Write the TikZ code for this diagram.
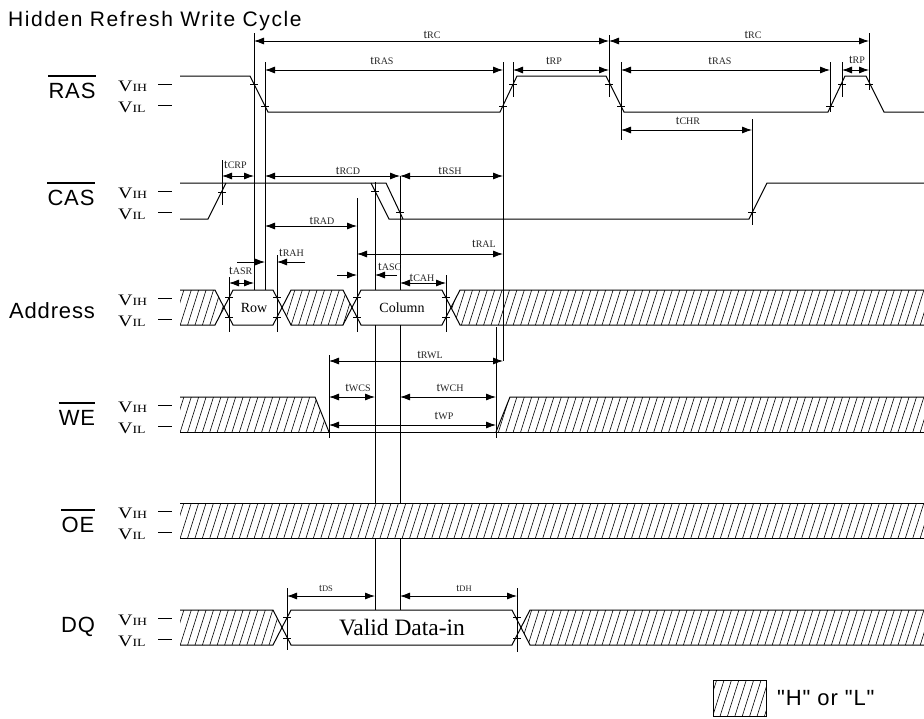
\documentclass[tikz,border=0pt]{standalone}
\usepackage{fontspec}
\setmainfont{Liberation Serif}
\newfontfamily\sigfont[LetterSpace=4]{Liberation Sans}
\newfontfamily\titlefont[LetterSpace=7.5]{Liberation Sans}
\newfontfamily\vfont[FakeStretch=1.25]{Liberation Serif}
\usetikzlibrary{arrows.meta}
\newcommand\tsub[1]{t{\fontsize{10}{10}\selectfont #1}}
\newcommand\tsubs[1]{{\fontsize{11}{11}\selectfont t}{\fontsize{8.5}{8.5}\selectfont #1}}
\newcommand\VIH{{\vfont\fontsize{16}{16}\selectfont V\fontsize{11}{11}\selectfont IH}}
\newcommand\VIL{{\vfont\fontsize{16}{16}\selectfont V\fontsize{11}{11}\selectfont IL}}
\newcommand\mytick[2]{\draw[refl] (#1-4,#2) -- (#1+4,#2);}
\newcommand\hatchin[2]{\begin{scope}\clip #2;
  \foreach \hx in {150,157.4,...,935}{\draw[hl] (\hx,#1+37) -- ++(12,-38);}\end{scope}}
\tikzset{
  wave/.style={line width=1pt},
  refl/.style={line width=0.8pt},
  dimar/.style={line width=0.8pt,{Latex[length=10pt,width=7pt]}-{Latex[length=10pt,width=7pt]}},
  onear/.style={line width=0.8pt,-{Latex[length=10pt,width=7pt]}},
  hl/.style={line width=0.6pt},
  ovl/.style={line width=1.3pt},
  signame/.style={font=\sigfont\fontsize{22}{22}\selectfont,inner sep=0pt,anchor=base},
  tlabel/.style={inner sep=0pt,anchor=base,font=\fontsize{13}{13}\selectfont,text=black!85},
  vlab/.style={inner sep=0pt,anchor=west},
  boxtext/.style={inner sep=0pt,font=\fontsize{14}{14}\selectfont},
}
\begin{document}
\begin{tikzpicture}[x=1pt,y=-1pt]
\useasboundingbox (0,0) rectangle (924,718);
% title
\node[inner sep=0pt,anchor=base west,font=\titlefont\fontsize{21}{21}\selectfont] (title) at (8,26) {Hidden Refresh Write Cycle};
% signal names
\node[signame] (ras) at (72,98) {RAS};
\node[signame] (cas) at (71,205) {CAS};
\node[signame] (addr) at (52,318) {Address};
\node[signame] (we) at (77,425) {WE};
\node[signame] (oe) at (78,532) {OE};
\node[signame] (dq) at (78,632) {DQ};
\foreach \n in {ras,cas,we,oe}{\draw[ovl] ([yshift=22pt]\n.base west) -- ([yshift=22pt]\n.base east);}
% level labels
\foreach \T in {76,183,290,397,503,610}{
  \node[vlab] at (118,\T+10) {\VIH};
  \node[vlab] at (118,\T+31) {\VIL};
  \draw[refl] (158,\T+8) -- (172,\T+8);
  \draw[refl] (158,\T+29) -- (172,\T+29);
}
% hatching
\hatchin{290}{(180,290) -- (215,290) -- (224,307.5) -- (215,325) -- (180,325) -- cycle}
\hatchin{290}{(282,307.5) -- (291,290) -- (343,290) -- (352,307.5) -- (343,325) -- (291,325) -- cycle}
\hatchin{290}{(451,307.5) -- (460,290) -- (924,290) -- (924,325) -- (460,325) -- cycle}
\hatchin{397}{(180,397) -- (315,397) -- (329,432) -- (180,432) -- cycle}
\hatchin{397}{(496,432) -- (510,397) -- (924,397) -- (924,432) -- cycle}
\hatchin{503}{(180,503) rectangle (924,538)}
\hatchin{610}{(180,610) -- (273,610) -- (282,627.5) -- (273,645) -- (180,645) -- cycle}
\hatchin{610}{(521,627.5) -- (530,610) -- (924,610) -- (924,645) -- (530,645) -- cycle}
\hatchin{680}{(713,680) rectangle (766,716)}
% waveforms
\draw[wave] (180,76) -- (250,76) -- (268,112) -- (500,112) -- (517,76) -- (606,76) -- (624,112) -- (828,112) -- (845,76) -- (866,76) -- (884,112) -- (924,112);
\draw[wave] (180,219) -- (208,219) -- (226,183);
\draw[wave] (180,183) -- (386,183) -- (403,219);
\draw[wave] (371,183) -- (389,219) -- (749,219) -- (767,183) -- (924,183);
% address
\draw[wave] (180,290) -- (215,290) -- (224,307.5) -- (215,325) -- (180,325);
\draw[wave] (224,307.5) -- (233,290) -- (273,290) -- (282,307.5) -- (273,325) -- (233,325) -- cycle;
\draw[wave] (282,307.5) -- (291,290) -- (343,290) -- (352,307.5) -- (343,325) -- (291,325) -- cycle;
\draw[wave] (352,307.5) -- (361,290) -- (442,290) -- (451,307.5) -- (442,325) -- (361,325) -- cycle;
\draw[wave] (924,290) -- (460,290) -- (451,307.5) -- (460,325) -- (924,325);
\node[boxtext] (row) at (254,308) {Row};
\node[boxtext] (col) at (402,308) {Column};
% WE
\draw[wave] (180,397) -- (315,397) -- (329,432);
\draw[wave] (180,432) -- (924,432);
\draw[wave] (496,432) -- (510,397) -- (924,397);
% OE
\draw[wave] (180,503) -- (924,503);
\draw[wave] (180,538) -- (924,538);
% DQ
\draw[wave] (180,610) -- (273,610) -- (282,627.5) -- (273,645) -- (180,645);
\draw[wave] (282,627.5) -- (291,610) -- (512,610) -- (521,627.5) -- (512,645) -- (291,645) -- cycle;
\draw[wave] (924,610) -- (530,610) -- (521,627.5) -- (530,645) -- (924,645);
\node[inner sep=0pt,font=\fontsize{23.5}{23.5}\selectfont] (vdi) at (402,628) {Valid Data-in};
% reference lines
\draw[refl] (222,160) -- (222,205);
\draw[refl] (229,277) -- (229,332);
\draw[refl] (254,33) -- (254,290);
\draw[refl] (265,62) -- (265,290);
\draw[refl] (277,255) -- (277,332);
\draw[refl] (287,588) -- (287,650);
\draw[refl] (329,355) -- (329,438);
\draw[refl] (357,198) -- (357,332);
\draw[refl] (375,182) -- (375,290) (375,325) -- (375,503) (375,538) -- (375,610);
\draw[refl] (400,176) -- (400,290) (400,325) -- (400,503) (400,538) -- (400,610);
\draw[refl] (446,275) -- (446,332);
\draw[refl] (496,327) -- (496,438);
\draw[refl] (503,62) -- (503,361);
\draw[refl] (513,62) -- (513,97);
\draw[refl] (517,588) -- (517,652);
\draw[refl] (609,35) -- (609,97);
\draw[refl] (621,62) -- (621,140);
\draw[refl] (752,119) -- (752,225);
\draw[refl] (830,62) -- (830,112);
\draw[refl] (842,62) -- (842,97);
\draw[refl] (869,33) -- (869,90);
% ticks
\mytick{254}{84}\mytick{265}{106}\mytick{503}{106}\mytick{513}{84}\mytick{609}{84}
\mytick{621}{106}\mytick{830}{106}\mytick{842}{84}\mytick{869}{84}
\mytick{222}{192}\mytick{375}{191}\mytick{400}{212}\mytick{752}{212}
\mytick{229}{297}\mytick{229}{317}\mytick{277}{297}\mytick{277}{317}
\mytick{357}{297}\mytick{357}{317}\mytick{446}{297}\mytick{446}{317}
\mytick{287}{617}\mytick{287}{638}\mytick{517}{617}\mytick{517}{638}
% dimension arrows
\draw[dimar] (254,41) -- (609,41);
\draw[dimar] (609,41) -- (869,41);
\draw[dimar] (265,70) -- (503,70);
\draw[dimar] (513,70) -- (609,70);
\draw[dimar] (621,70) -- (830,70);
\draw[dimar] (842,70) -- (869,70);
\draw[dimar] (621,130) -- (752,130);
\draw[dimar] (222,176) -- (254,176);
\draw[dimar] (265,176) -- (400,176);
\draw[dimar] (400,176) -- (503,176);
\draw[dimar] (265,226) -- (357,226);
\draw[dimar] (357,254) -- (503,254);
\draw[onear] (237,262) -- (265,262);
\draw[onear] (305,262) -- (277,262);
\draw[dimar] (229,283) -- (254,283);
\draw[onear] (337,275) -- (357,275);
\draw[onear] (397,275) -- (375,275);
\draw[dimar] (400,283) -- (446,283);
\draw[dimar] (329,361) -- (503,361);
\draw[dimar] (329,397) -- (375,397);
\draw[dimar] (400,397) -- (496,397);
\draw[dimar] (329,425) -- (496,425);
\draw[dimar] (287,596) -- (375,596);
\draw[dimar] (400,596) -- (517,596);
% timing labels
\node[tlabel] at (432,38) {\tsub{RC}};
\node[tlabel] at (753,38) {\tsub{RC}};
\node[tlabel] at (382,64) {\tsub{RAS}};
\node[tlabel] at (554,64) {\tsub{RP}};
\node[tlabel] at (720,64) {\tsub{RAS}};
\node[tlabel] at (857,63) {\tsub{RP}};
\node[tlabel] at (688,124) {\tsub{CHR}};
\node[tlabel,anchor=base west] at (224,168) {\tsub{CRP}};
\node[tlabel] at (348,174) {\tsub{RCD}};
\node[tlabel] at (450,174) {\tsub{RSH}};
\node[tlabel] at (322,224) {\tsub{RAD}};
\node[tlabel] at (484,247) {\tsub{RAL}};
\node[tlabel,anchor=base west] at (279,256) {\tsub{RAH}};
\node[tlabel,anchor=base west] at (229,274) {\tsub{ASR}};
\node[tlabel,anchor=base west] at (378,270) {\tsub{ASC}};
\node[tlabel] at (422,281) {\tsub{CAH}};
\node[tlabel] at (430,358) {\tsub{RWL}};
\node[tlabel] at (358,391) {\tsub{WCS}};
\node[tlabel] at (450,391) {\tsub{WCH}};
\node[tlabel] at (444,419) {\tsub{WP}};
\node[tlabel] at (326,591) {\tsubs{DS}};
\node[tlabel] at (464,591) {\tsubs{DH}};
% legend
\draw[refl] (713,680) rectangle (766,716);
\node[signame,anchor=base west] (leg) at (777,705) {"H" or "L"};
\end{tikzpicture}
\end{document}
